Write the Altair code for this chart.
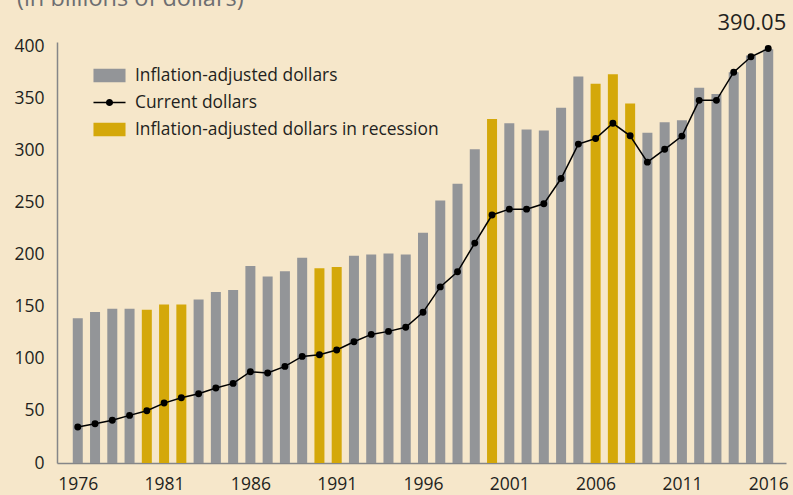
import altair as alt
import pandas as pd

years = list(range(1976, 2017))
adjusted = [139, 145, 148, 148, 147, 152, 152, 157, 164, 166,
            189, 179, 184, 197, 187, 188, 199, 200, 201, 200,
            221, 252, 268, 301, 330, 326, 320, 319, 341, 371,
            364, 373, 345, 317, 327, 329, 360, 354, 375, 391,
            397]
current = [34.5, 37.7, 41, 45.7, 50.2, 57.5, 62.7, 66.5, 72, 76.4,
           87.6, 86.3, 92.7, 102.3, 103.9, 108.4, 116.4, 123.4, 126.3, 130.2,
           144.6, 169, 183.5, 211, 238, 243.6, 243.6, 248.7, 273, 306,
           311.4, 326, 314, 288.7, 301, 313.7, 348, 348, 375, 389.8,
           397.7]
recession_years = [1980, 1981, 1982, 1990, 1991, 2000, 2006, 2007, 2008]
series_names = ["Inflation-adjusted dollars", "Current dollars",
                "Inflation-adjusted dollars in recession"]
series_colors = ["#939598", "#000000", "#D4A80A"]
annotation_year = 2016
annotation_text = "390.05"
x_ticks = [1976, 1981, 1986, 1991, 1996, 2001, 2006, 2011, 2016]
y_ticks = [0, 50, 100, 150, 200, 250, 300, 350, 400]
title_text = ["(in billions of dollars)"]

FONT = "Open Sans"
BG = "#F6E7CA"
TXT = "#231F20"

df = pd.DataFrame({
    "year": years,
    "adjusted": adjusted,
    "current": current,
})
df["series"] = [series_names[2] if y in recession_years else series_names[0] for y in years]
df["label"] = [annotation_text if y == annotation_year else "" for y in years]

x_enc = alt.X("year:Q",
              scale=alt.Scale(domain=[1975.086, 2016.74], nice=False, zero=False),
              axis=alt.Axis(values=x_ticks, format="d", title=None, grid=False, ticks=False,
                            labelFont=FONT, labelFontSize=17.5, labelColor=TXT,
                            labelPadding=12.5, domainColor="#858688", domainWidth=1.5,
                            labelOverlap=False, labelFlush=False))
y_scale = alt.Scale(domain=[0, 404], nice=False)
y_axis = alt.Axis(values=y_ticks, title=None, grid=False, ticks=False,
                  labelFont=FONT, labelFontSize=17.5, labelColor=TXT,
                  labelPadding=13, domainColor="#858688", domainWidth=1.5)

color_scale = alt.Scale(domain=series_names, range=series_colors)
rect_path = "M-1.2,-0.5L1.2,-0.5L1.2,0.5L-1.2,0.5Z"
line_dot_path = ("M-1.2,-0.06L1.2,-0.06L1.2,0.06L-1.2,0.06Z "
                 "M0.27,0A0.27,0.27 0 1,1 -0.27,0A0.27,0.27 0 1,1 0.27,0Z")
shape_scale = alt.Scale(domain=series_names, range=[rect_path, line_dot_path, rect_path])

legend = alt.Legend(title=None, orient="none", legendX=39, legendY=20,
                    symbolSize=713, symbolStrokeWidth=0, labelFont=FONT,
                    labelFontSize=17.4, labelColor=TXT, labelOffset=12,
                    labelLimit=0, rowPadding=5, symbolOpacity=1)

bars = alt.Chart(df).mark_bar(size=10).encode(
    x=x_enc,
    y=alt.Y("adjusted:Q", scale=y_scale, axis=y_axis),
    color=alt.Color("series:N", scale=color_scale, legend=legend),
)

legend_layer = alt.Chart(df).transform_filter("false").mark_point(filled=True, opacity=1).encode(
    x=alt.X("year:Q"),
    y=alt.Y("current:Q"),
    color=alt.Color("series:N", scale=color_scale, legend=legend),
    shape=alt.Shape("series:N", scale=shape_scale, legend=legend),
)

line = alt.Chart(df).mark_line(color="#000000", strokeWidth=1.5).encode(
    x=alt.X("year:Q"),
    y=alt.Y("current:Q"),
)
points = alt.Chart(df).mark_circle(color="#000000", size=48, opacity=1).encode(
    x=alt.X("year:Q"),
    y=alt.Y("current:Q"),
)
annot = alt.Chart(df).transform_filter(f"datum.year == {annotation_year}").mark_text(
    font=FONT, fontSize=22, color=TXT, align="right", baseline="middle",
    dx=18, dy=-26,
).encode(
    x=alt.X("year:Q"),
    y=alt.Y("current:Q"),
    text="label:N",
)

title_df = pd.DataFrame({"t": title_text})
title_mark = alt.Chart(title_df).mark_text(
    font=FONT, fontSize=23.5, color="#6D6E71", align="left", baseline="alphabetic",
).encode(
    x=alt.value(-40), y=alt.value(-36.5), text="t:N",
)

chart = alt.layer(bars, legend_layer, line, points, annot, title_mark).properties(
    width=729, height=421,
    autosize=alt.AutoSizeParams(type="none"),
    padding={"left": 57, "top": 42, "right": 7, "bottom": 32},
    background=BG,
).configure_view(stroke=None)

chart.save("out.html", embed_options={"renderer": "svg", "actions": False})
